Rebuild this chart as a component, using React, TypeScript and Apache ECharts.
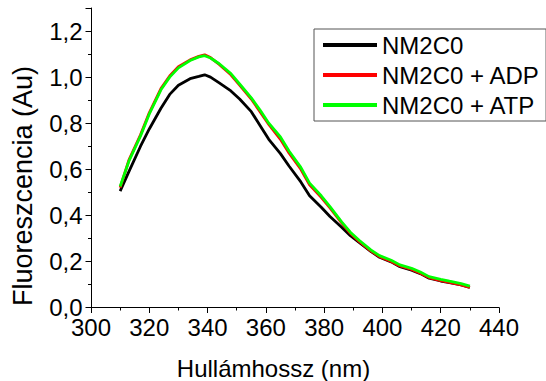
import React, { useEffect, useRef } from "react";
import * as echarts from "echarts";

const wavelengths = [310, 313, 317, 320, 324, 327, 330, 334, 337, 339, 341, 344, 348, 351, 355, 358, 361, 365, 368, 372, 375, 379, 382, 386, 389, 392, 396, 399, 403, 406, 410, 413, 416, 420, 423, 427, 430];
const nm2c0 = [0.505, 0.59, 0.7, 0.775, 0.865, 0.925, 0.965, 0.993, 1.003, 1.01, 1.0, 0.975, 0.94, 0.905, 0.85, 0.79, 0.73, 0.668, 0.613, 0.545, 0.485, 0.435, 0.395, 0.348, 0.312, 0.283, 0.244, 0.218, 0.198, 0.177, 0.162, 0.147, 0.127, 0.115, 0.108, 0.098, 0.087];
const nm2c0Adp = [0.52, 0.64, 0.75, 0.845, 0.95, 1.005, 1.045, 1.075, 1.09, 1.097, 1.085, 1.055, 1.01, 0.965, 0.905, 0.85, 0.795, 0.73, 0.67, 0.6, 0.533, 0.478, 0.432, 0.367, 0.322, 0.287, 0.246, 0.221, 0.2, 0.18, 0.165, 0.149, 0.13, 0.117, 0.109, 0.098, 0.087];
const nm2c0Atp = [0.525, 0.635, 0.745, 0.84, 0.945, 1.0, 1.04, 1.072, 1.088, 1.093, 1.083, 1.058, 1.015, 0.97, 0.91, 0.857, 0.8, 0.74, 0.678, 0.608, 0.54, 0.485, 0.438, 0.372, 0.327, 0.292, 0.25, 0.225, 0.205, 0.185, 0.17, 0.154, 0.134, 0.122, 0.114, 0.104, 0.093];

const seriesNames = ["NM2C0", "NM2C0 + ADP", "NM2C0 + ATP"];
const seriesColors = ["#000000", "#ff0000", "#00ff00"];
const seriesValues = [nm2c0, nm2c0Adp, nm2c0Atp];

const xTitle = "Hullámhossz (nm)";
const yTitle = "Fluoreszcencia (Au)";

const FONT = "'Liberation Sans', Arial, sans-serif";

export default function App() {
  const ref = useRef<HTMLDivElement>(null);
  useEffect(() => {
    if (!ref.current) return;
    const chart = echarts.init(ref.current, undefined, { renderer: "svg" });
    const axisCommon = {
      axisLine: { show: true, onZero: false, lineStyle: { color: "#000", width: 1 } },
      axisTick: { show: true, inside: false, length: 5.5, lineStyle: { color: "#000", width: 1 } },
      minorTick: { show: true, splitNumber: 2, length: 3, lineStyle: { color: "#000", width: 1 } },
      splitLine: { show: false },
      minorSplitLine: { show: false },
    };
    chart.setOption({
      animation: false,
      backgroundColor: "#fff",
      grid: { left: 91, right: 47, top: 8, bottom: 73.5, containLabel: false },
      xAxis: {
        type: "value",
        min: 300,
        max: 440,
        interval: 20,
        ...axisCommon,
        axisLabel: { color: "#000", fontSize: 24, lineHeight: 20, fontFamily: FONT, margin: 10, showMinLabel: true, showMaxLabel: true },
      },
      yAxis: {
        type: "value",
        min: 0,
        max: 1.3,
        interval: 0.2,
        ...axisCommon,
        axisLabel: {
          color: "#000",
          fontSize: 24,
          lineHeight: 20,
          fontFamily: FONT,
          margin: 8.5,
          showMaxLabel: false,
          formatter: (v: number) => {
            const r = Math.round(v * 10);
            if (r % 2 !== 0) return "";
            return (r / 10).toFixed(1).replace(".", ",");
          },
        },
      },
      legend: {
        show: true,
        orient: "vertical",
        left: 314,
        top: 29,
        padding: [4, 6, 4, 9],
        itemGap: 6,
        itemWidth: 54,
        itemHeight: 14,
        borderColor: "#555",
        borderWidth: 1,
        backgroundColor: "#fff",
        textStyle: { color: "#000", fontSize: 24, fontFamily: FONT },
        data: seriesNames.map((n) => ({ name: n, icon: "path://M0,0 L54,0 L54,3.8 L0,3.8 Z" })),
      },
      graphic: [
        {
          type: "text",
          x: 273.5,
          y: 368,
          style: { text: xTitle, fontSize: 24, fontFamily: FONT, fill: "#000", textAlign: "center", textVerticalAlign: "middle" },
        },
        {
          type: "text",
          x: 22.5,
          y: 186,
          rotation: Math.PI / 2,
          style: { text: yTitle, fontSize: 27, fontFamily: FONT, fill: "#000", textAlign: "center", textVerticalAlign: "middle" },
        },
      ],
      series: seriesNames.map((name, i) => ({
        name,
        type: "line",
        data: wavelengths.map((w, j) => [w, seriesValues[i][j]]),
        showSymbol: false,
        symbol: "none",
        smooth: false,
        color: seriesColors[i],
        lineStyle: { color: seriesColors[i], width: 2.8 },
        z: 2 + i,
      })),
    });
    return () => chart.dispose();
  }, []);
  return <div ref={ref} style={{ position: "absolute", left: 0, top: 0, width: 546, height: 381 }} />;
}
